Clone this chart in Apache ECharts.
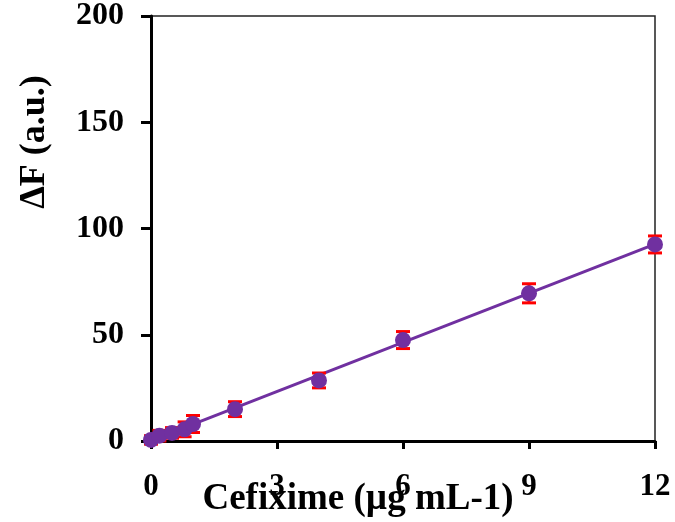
<!DOCTYPE html>
<html>
<head>
<meta charset="utf-8">
<script src="https://cdn.jsdelivr.net/npm/echarts@6/dist/echarts.min.js"></script>
<style>html,body{margin:0;padding:0;background:#fff}#c{width:675px;height:522px}</style>
</head>
<body>
<div id="c"></div>
<script>
var xVals = [0, 0.2, 0.5, 0.8, 1, 2, 4, 6, 9, 12];
var yVals = [0.5, 2.5, 3.8, 5.5, 8, 15, 28.5, 47.5, 69.5, 92.5];
var errs = [2, 2.5, 2.5, 3.5, 4, 3.5, 3.5, 4, 4.5, 4];
var fitX = [0, 12];
var fitY = [0.2, 92.6];
var xTicks = [0, 3, 6, 9, 12];
var yTicks = [0, 50, 100, 150, 200];
var xTitle = 'Cefixime (µg mL-1)';
var yTitle = 'ΔF (a.u.)';

var FONT = '"Liberation Serif","Times New Roman",serif';
var pts = xVals.map(function (x, i) { return [x, yVals[i]]; });
var errData = xVals.map(function (x, i) { return [x, yVals[i], errs[i]]; });
var fitData = fitX.map(function (x, i) { return [x, fitY[i]]; });

var chart = echarts.init(document.getElementById('c'));
chart.setOption({
  animation: false,
  backgroundColor: '#fff',
  grid: { left: 151, right: 20, top: 15, bottom: 81, show: true, borderColor: '#222', borderWidth: 1.5, backgroundColor: 'transparent' },
  xAxis: {
    type: 'value', min: 0, max: 12, interval: 3,
    axisLine: { show: true, onZero: false, lineStyle: { color: '#000', width: 3 } },
    axisTick: { show: true, length: 8, lineStyle: { color: '#000', width: 3 } },
    axisLabel: { fontFamily: FONT, fontWeight: 'bold', fontSize: 31, color: '#000', margin: 30,
      formatter: function (v) { return xTicks.indexOf(v) >= 0 ? String(v) : ''; } },
    splitLine: { show: false }
  },
  yAxis: {
    type: 'value', min: 0, max: 200, interval: 50,
    axisLine: { show: true, onZero: false, lineStyle: { color: '#000', width: 3 } },
    axisTick: { show: true, length: 10, lineStyle: { color: '#000', width: 3 } },
    axisLabel: { fontFamily: FONT, fontWeight: 'bold', fontSize: 32, color: '#000', margin: 27,
      formatter: function (v) { return yTicks.indexOf(v) >= 0 ? String(v) : ''; } },
    splitLine: { show: false }
  },
  graphic: [
    { type: 'text', x: 358, y: 499, z: 100,
      style: { text: xTitle, font: 'bold 37px ' + FONT, fill: '#000', textAlign: 'center', textVerticalAlign: 'middle', align: 'center', verticalAlign: 'middle' } },
    { type: 'text', x: 35, y: 142, rotation: Math.PI / 2, z: 100,
      style: { text: yTitle, font: 'bold 36px ' + FONT, fill: '#000', textAlign: 'center', textVerticalAlign: 'middle', align: 'center', verticalAlign: 'middle' } }
  ],
  series: [
    {
      type: 'line', data: fitData, symbol: 'none', clip: false, z: 2,
      lineStyle: { color: '#7030A0', width: 3 }
    },
    {
      type: 'custom', data: errData, clip: false, z: 3,
      renderItem: function (params, api) {
        var x = api.value(0), y = api.value(1), e = api.value(2);
        var top = api.coord([x, y + e]);
        var bot = api.coord([x, y - e]);
        var hw = 7;
        var st = { stroke: '#FF0000', lineWidth: 3 };
        return { type: 'group', children: [
          { type: 'line', shape: { x1: top[0], y1: top[1], x2: bot[0], y2: bot[1] }, style: st },
          { type: 'line', shape: { x1: top[0] - hw, y1: top[1], x2: top[0] + hw, y2: top[1] }, style: st },
          { type: 'line', shape: { x1: bot[0] - hw, y1: bot[1], x2: bot[0] + hw, y2: bot[1] }, style: st }
        ] };
      }
    },
    {
      type: 'scatter', data: pts, symbol: 'circle', symbolSize: 16, clip: false, z: 4,
      itemStyle: { color: '#7030A0', opacity: 1 }
    }
  ]
});
</script>
</body>
</html>
